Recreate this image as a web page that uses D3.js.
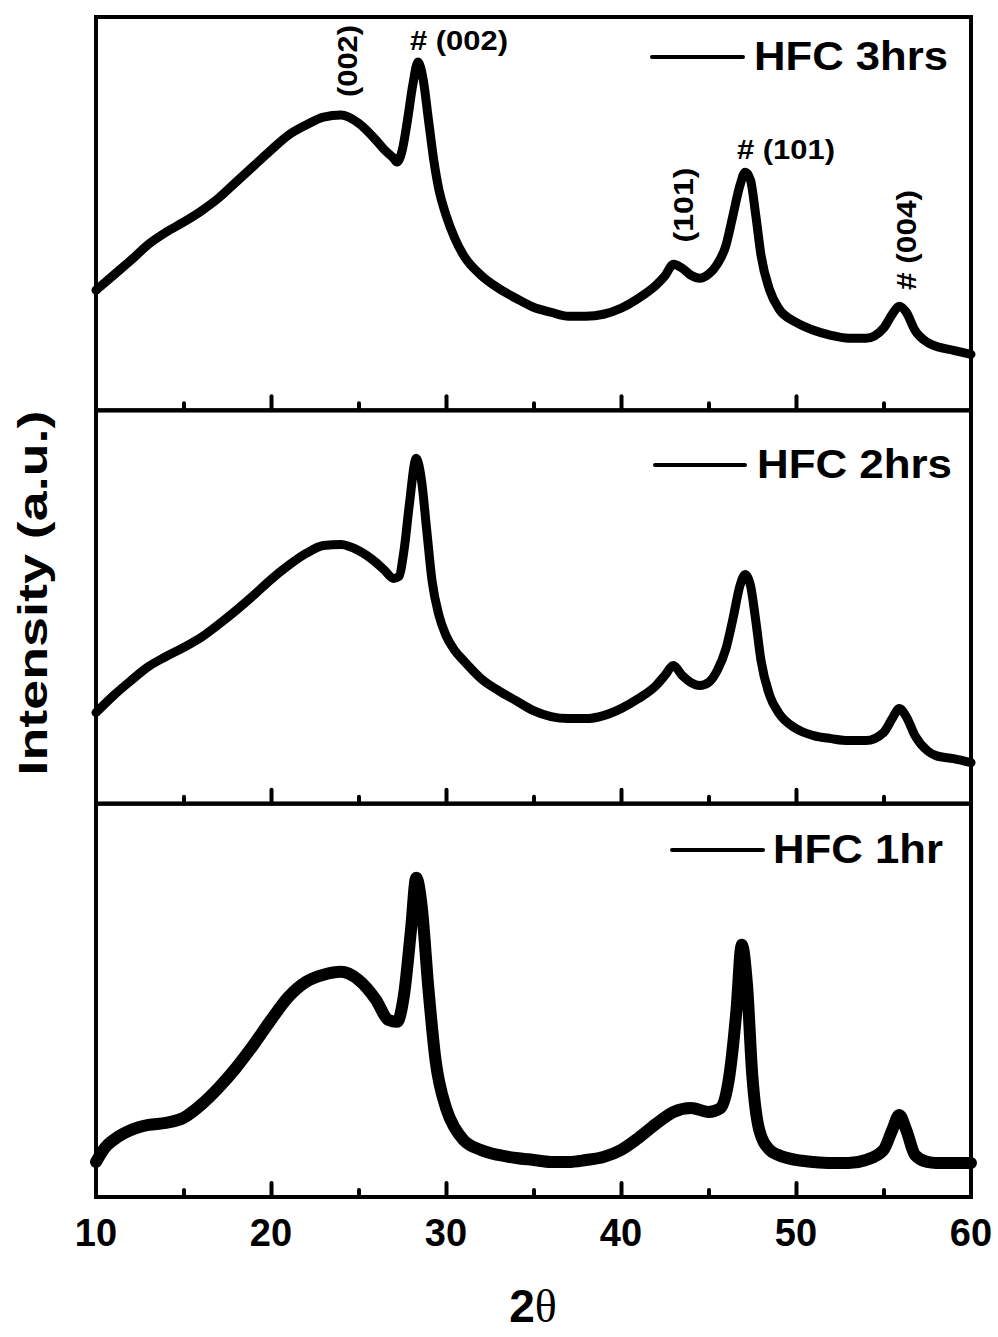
<!DOCTYPE html>
<html>
<head>
<meta charset="utf-8">
<script src="https://cdn.jsdelivr.net/npm/d3@7"></script>
<style>
    body { margin: 0; background: #fff; }
    svg { display: block; }
    text { font-family: Arial, "Liberation Sans", sans-serif; font-weight: bold; fill: #000; }
</style>
</head>
<body>
<div id="mainDiv"></div>
<script>
// 2theta positions and intensities (a.u.)
var theta3 = [ 10, 11, 12, 13, 14, 15, 16, 17, 18, 19, 20, 21, 22, 23, 24, 25, 26, 26.5, 27, 27.2, 27.5, 27.8, 28.1, 28.4, 28.7, 29, 29.3, 29.6, 30, 30.5, 31, 32, 33, 34, 35, 36, 37, 38, 39, 40, 41, 42, 42.5, 43, 43.5, 44, 44.5, 45, 45.5, 46, 46.4, 46.8, 47.1, 47.4, 47.7, 48, 48.5, 49, 50, 51, 52, 53, 54, 55, 55.5, 55.9, 56.3, 56.8, 57.5, 58, 59, 60 ];
var hfc3 = [ 120, 135, 150, 166, 178, 188, 199, 212, 228, 244, 260, 275, 285, 293, 295, 287, 270, 260, 252, 248, 260, 290, 325, 348, 330, 290, 250, 220, 195, 172, 155, 135, 122, 112, 103, 98, 94, 94, 96, 102, 112, 125, 134, 146, 142, 135, 132, 136, 146, 165, 195, 225, 238, 230, 195, 155, 120, 102, 88, 80, 75, 72, 72, 82, 96, 104, 98, 80, 68, 64, 60, 56 ];

var theta2 = [ 10, 11, 12, 13, 14, 15, 16, 17, 18, 19, 20, 21, 22, 23, 24, 25, 26, 26.5, 27, 27.3, 27.6, 27.9, 28.3, 28.6, 28.9, 29.2, 29.6, 30, 30.5, 31, 32, 33, 34, 35, 36, 37, 38, 39, 40, 41, 42, 42.5, 43, 43.5, 44, 44.5, 45, 45.5, 46, 46.4, 46.8, 47.1, 47.4, 47.7, 48, 48.5, 49, 50, 51, 52, 53, 54, 55, 55.5, 55.9, 56.3, 56.8, 57.5, 58, 59, 60 ];
var hfc2 = [ 91, 108, 123, 137, 147, 156, 166, 179, 193, 208, 224, 238, 250, 258, 259, 253, 241, 233, 225, 227, 253, 298, 345, 323, 273, 223, 188, 168, 153, 143, 125, 113, 103, 93, 87, 85, 85, 88, 95, 105, 118, 128, 138, 128, 121, 118, 121, 133, 155, 185, 218, 229, 218, 183, 143, 108, 91, 75, 68, 65, 63, 63, 71, 85, 95, 87, 68, 53, 48, 45, 41 ];

var theta1 = [ 10, 10.5, 11, 12, 13, 14, 15, 16, 17, 18, 19, 20, 21, 22, 23, 24, 25, 26, 26.7, 27.2, 27.6, 28, 28.3, 28.6, 29, 29.4, 30, 30.5, 31, 32, 33, 34, 35, 36, 37, 38, 39, 40, 41, 42, 43, 44, 45, 45.7, 46.2, 46.6, 46.9, 47.2, 47.5, 47.9, 48.5, 49, 50, 51, 52, 53, 54, 55, 55.5, 55.9, 56.3, 56.8, 57.5, 58, 59, 60 ];
var hfc1 = [ 35, 49, 57, 67, 72, 74, 79, 92, 109, 129, 152, 177, 200, 215, 222, 225, 217, 197, 177, 175, 202, 267, 319, 292, 207, 137, 89, 69, 57, 47, 42, 39, 37, 35, 35, 37, 40, 47, 59, 73, 85, 89, 85, 89, 122, 187, 252, 212, 122, 67, 47, 42, 37, 35, 34, 34, 37, 47, 67, 82, 67, 42, 35, 34, 34, 34 ];

var legendNames = [ 'HFC 3hrs', 'HFC 2hrs', 'HFC 1hr' ];
var xTicks = [ 10, 20, 30, 40, 50, 60 ];
var xMinorTicks = [ 15, 25, 35, 45, 55 ];

// peak labels of the top pattern
var peakLabels = [ '(002)', '# (002)', '(101)', '# (101)', '# (004)' ];
var peakRotated = [ true, false, true, false, true ];

var HfcChart = HfcChart || {};

HfcChart.main = function () {

    var _width = 998, _height = 1337,
        _left = 96, _right = 971, _top = 17, _bottom = 1197,
        _panelH = ( _bottom - _top ) / 3,
        _series = [
            { theta: theta3, value: hfc3, name: legendNames[ 0 ], width: 9 },
            { theta: theta2, value: hfc2, name: legendNames[ 1 ], width: 9 },
            { theta: theta1, value: hfc1, name: legendNames[ 2 ], width: 12 }
        ],
        // legend placement per panel: line start, line end, text start, line y, baseline, text length
        _legendPos = [
            [ 652, 743, 754, 57, 70, 194 ],
            [ 655, 745, 757, 465, 478, 195 ],
            [ 672, 763, 773, 850, 863, 170 ]
        ],
        // peak label anchor: x, y, text length
        _labelPos = [ [ 347, 61, 72 ], [ 459, 50, 98 ], [ 683, 205, 75 ], [ 786, 159, 98 ], [ 906, 240, 100 ] ];

    var svg = d3.select( '#mainDiv' )
        .append( 'svg' )
        .attr( 'width', _width )
        .attr( 'height', _height );

    var x = d3.scaleLinear()
        .domain( [ 10, 60 ] )
        .range( [ _left, _right ] );

    var _styleTicks = function ( sel ) {
        sel.select( '.domain' ).remove();
        sel.selectAll( 'line' )
            .attr( 'stroke', '#000' )
            .attr( 'stroke-width', 4 )
            .attr( 'stroke-linecap', 'round' );
    };

    _series.forEach( function ( s, i ) {
        var pTop = _top + i * _panelH,
            pBottom = pTop + _panelH,
            y = d3.scaleLinear().domain( [ 0, 393 ] ).range( [ pBottom, pTop ] ),
            g = svg.append( 'g' ).attr( 'id', 'panel' + i ),
            pts = s.theta.map( function ( t, k ) { return [ t, s.value[ k ] ]; } );

        g.append( 'path' )
            .datum( pts )
            .attr( 'fill', 'none' )
            .attr( 'stroke', '#000' )
            .attr( 'stroke-width', s.width )
            .attr( 'stroke-linejoin', 'round' )
            .attr( 'stroke-linecap', 'round' )
            .attr( 'd', d3.line()
                .curve( d3.curveMonotoneX )
                .x( function ( d ) { return x( d[ 0 ] ); } )
                .y( function ( d ) { return y( d[ 1 ] ); } ) );

        // inward ticks on the bottom edge of each panel
        g.append( 'g' )
            .attr( 'transform', 'translate(0,' + pBottom + ')' )
            .call( d3.axisBottom( x ).tickValues( xTicks.slice( 1, -1 ) ).tickSize( -14 ).tickFormat( '' ) )
            .call( _styleTicks );
        g.append( 'g' )
            .attr( 'transform', 'translate(0,' + pBottom + ')' )
            .call( d3.axisBottom( x ).tickValues( xMinorTicks ).tickSize( -7 ).tickFormat( '' ) )
            .call( _styleTicks );

        // legend
        var lp = _legendPos[ i ];
        g.append( 'line' )
            .attr( 'x1', lp[ 0 ] ).attr( 'x2', lp[ 1 ] )
            .attr( 'y1', lp[ 3 ] ).attr( 'y2', lp[ 3 ] )
            .attr( 'stroke', '#000' )
            .attr( 'stroke-width', 4 )
            .attr( 'stroke-linecap', 'round' );
        g.append( 'text' )
            .attr( 'x', lp[ 2 ] )
            .attr( 'y', lp[ 4 ] )
            .attr( 'font-size', 40 )
            .attr( 'textLength', lp[ 5 ] )
            .attr( 'lengthAdjust', 'spacingAndGlyphs' )
            .text( s.name );

        // panel frame
        g.append( 'rect' )
            .attr( 'x', _left )
            .attr( 'y', pTop )
            .attr( 'width', _right - _left )
            .attr( 'height', _panelH )
            .attr( 'fill', 'none' )
            .attr( 'stroke', '#000' )
            .attr( 'stroke-width', 4 );
    } );

    // peak labels, top panel
    peakLabels.forEach( function ( lab, k ) {
        var p = _labelPos[ k ];
        var t = svg.append( 'text' )
            .attr( 'font-size', 27 )
            .attr( 'text-anchor', 'middle' )
            .attr( 'textLength', p[ 2 ] )
            .attr( 'lengthAdjust', 'spacingAndGlyphs' )
            .text( lab );
        if ( peakRotated[ k ] ) {
            t.attr( 'transform', 'translate(' + ( p[ 0 ] + 10 ) + ',' + p[ 1 ] + ') rotate(-90)' );
        } else {
            t.attr( 'x', p[ 0 ] ).attr( 'y', p[ 1 ] );
        }
    } );

    // x tick labels
    svg.append( 'g' )
        .selectAll( 'text' )
        .data( xTicks )
        .enter()
        .append( 'text' )
        .attr( 'x', function ( d ) { return x( d ); } )
        .attr( 'y', 1246 )
        .attr( 'font-size', 38 )
        .attr( 'text-anchor', 'middle' )
        .text( function ( d ) { return d; } );

    // axis titles
    var xt = svg.append( 'text' )
        .attr( 'x', 533 )
        .attr( 'y', 1322 )
        .attr( 'font-size', 46 )
        .attr( 'text-anchor', 'middle' );
    xt.append( 'tspan' ).text( '2' );
    xt.append( 'tspan' )
        .style( 'font-family', '"Liberation Serif", "Times New Roman", serif' )
        .style( 'font-weight', 'normal' )
        .text( 'θ' );

    svg.append( 'text' )
        .attr( 'transform', 'translate(47,593) rotate(-90)' )
        .attr( 'font-size', 40 )
        .attr( 'text-anchor', 'middle' )
        .attr( 'textLength', 365 )
        .attr( 'lengthAdjust', 'spacingAndGlyphs' )
        .text( 'Intensity (a.u.)' );
}();
</script>
</body>
</html>
